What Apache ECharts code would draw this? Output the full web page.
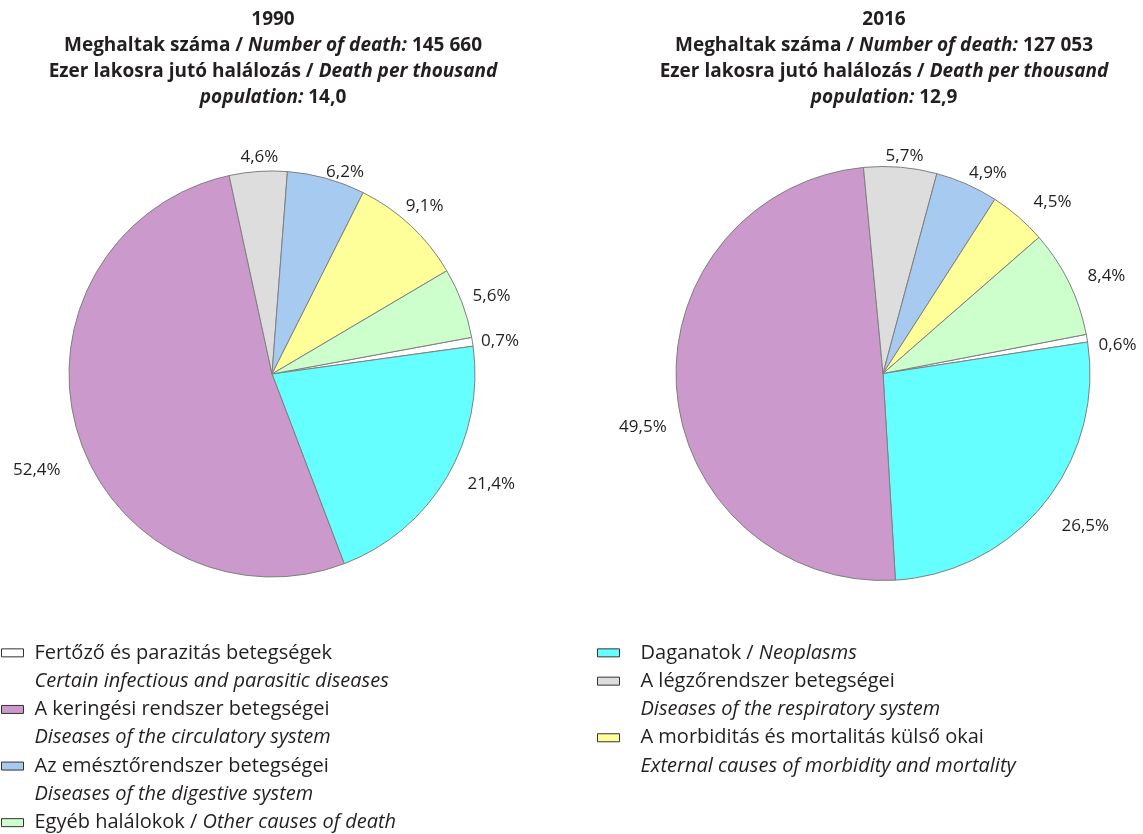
<!DOCTYPE html>
<html>
<head>
<meta charset="utf-8">
<script src="https://cdn.jsdelivr.net/npm/echarts/dist/echarts.min.js"></script>
<style>
html, body { margin: 0; padding: 0; background: #fff; }
#main { width: 1143px; height: 834px; }
</style>
</head>
<body>
<div id="main"></div>
<script>
// categories, in the order the slices run clockwise
var namesHu = ['Fertőző és parazitás betegségek', 'Daganatok', 'A keringési rendszer betegségei',
  'A légzőrendszer betegségei', 'Az emésztőrendszer betegségei',
  'A morbiditás és mortalitás külső okai', 'Egyéb halálokok'];
var namesEn = ['Certain infectious and parasitic diseases', 'Neoplasms', 'Diseases of the circulatory system',
  'Diseases of the respiratory system', 'Diseases of the digestive system',
  'External causes of morbidity and mortality', 'Other causes of death'];
var share1990 = [0.7, 21.4, 52.4, 4.6, 6.2, 9.1, 5.6];
var share2016 = [0.6, 26.5, 49.5, 5.7, 4.9, 4.5, 8.4];
var years = ['1990', '2016'];
var deaths = ['145 660', '127 053'];
var deathRate = ['14,0', '12,9'];

var colors = ['#ffffff', '#66ffff', '#cc99cc', '#dddddd', '#a6caf0', '#ffff99', '#ccffcc'];
var oneLine = [false, true, false, false, false, false, true]; // "hu / en" on a single row
// legend placement: [category index, column x, row]
var legendSlots = [[0, 1, 0], [2, 1, 2], [4, 1, 4], [6, 1, 6], [1, 597, 0], [3, 597, 1], [5, 597, 3]];
// small nudges so the value labels sit where the original put them
var labelShift = [
  [[3, 2], [19, -1], [-12, 34], [3, 0], [12, 8], [-3, -9], [6, -2]],
  [[6, 9], [18, 14], [-4, 37], [2, 3], [11, 2], [18, -4], [15, 0]]
];

var FONT = 'Open Sans';
var TXT = '#231f20';
var ROW = 28.3;

function pct(v) {
  return v.toFixed(1).replace('.', ',') + '%';
}

// legend text; the blank rows keep the marker level with the Hungarian row
function legendText(i) {
  if (oneLine[i]) return '{t| }\n{t|' + namesHu[i] + ' / }{i|' + namesEn[i] + '}\n{t| }';
  return '{t| }\n{t|' + namesHu[i] + '}\n{i|' + namesEn[i] + '}';
}

var legendRich = {
  t: { fontFamily: FONT, fontSize: 20, lineHeight: ROW, color: TXT },
  i: { fontFamily: FONT, fontSize: 20, lineHeight: ROW, color: TXT, fontStyle: 'italic' }
};

function titleText(k) {
  return [
    '{b|' + years[k] + '}',
    '{b|Meghaltak száma}{n| / }{i|Number of death: }{b|' + deaths[k] + '}',
    '{b|Ezer lakosra jutó halálozás}{n| / }{i|Death per thousand}',
    '{i|population: }{b|' + deathRate[k] + '}'
  ].join('\n');
}

var titleRich = {
  b: { fontFamily: FONT, fontSize: 19, lineHeight: 26, fontWeight: 'bold', color: TXT },
  n: { fontFamily: FONT, fontSize: 19, lineHeight: 26, color: TXT },
  i: { fontFamily: FONT, fontSize: 19, lineHeight: 26, fontStyle: 'italic', color: TXT }
};

function outsideLabel(p) {
  var pts = p.labelLinePoints;
  if (!pts) return {};
  var dx = pts[1][0] - pts[0][0], dy = pts[1][1] - pts[0][1];
  var len = Math.sqrt(dx * dx + dy * dy) || 1;
  var ux = dx / len, uy = dy / len;
  var s = labelShift[p.seriesIndex][p.dataIndex];
  return {
    x: pts[1][0] + ux * p.labelRect.width / 2 + s[0],
    y: pts[1][1] + uy * p.labelRect.height / 2 + s[1],
    align: 'center',
    verticalAlign: 'middle'
  };
}

function pieSeries(values, center, radius, startAngle) {
  return {
    type: 'pie',
    center: center,
    radius: radius,
    startAngle: startAngle,
    clockwise: true,
    avoidLabelOverlap: false,
    animation: false,
    emphasis: { scale: false },
    itemStyle: { borderColor: '#808080', borderWidth: 1 },
    label: {
      show: true,
      position: 'outside',
      fontFamily: FONT,
      fontSize: 17,
      color: TXT,
      formatter: function (p) { return pct(p.value); }
    },
    labelLine: { show: true, length: 6, length2: 0, lineStyle: { opacity: 0 } },
    labelLayout: outsideLabel,
    data: namesHu.map(function (n, i) {
      return { name: n, value: values[i], itemStyle: { color: colors[i] } };
    })
  };
}

var chart = echarts.init(document.getElementById('main'));
chart.setOption({
  backgroundColor: '#fff',
  title: [0, 1].map(function (k) {
    return {
      text: titleText(k),
      left: k ? 884 : 273,
      top: 7,
      textAlign: 'center',
      padding: 0,
      textStyle: { rich: titleRich }
    };
  }),
  legend: legendSlots.map(function (slot) {
    return {
      data: [namesHu[slot[0]]],
      orient: 'vertical',
      left: slot[1],
      top: 650 + ROW * slot[2] - 1.5 * ROW + 7,
      padding: 0,
      itemWidth: 22,
      itemHeight: 8,
      selectedMode: false,
      icon: 'rect',
      itemStyle: { borderColor: '#333', borderWidth: 1 },
      textStyle: { padding: [0, 0, 0, slot[1] > 100 ? 16 : 6], rich: legendRich },
      formatter: function (name) { return legendText(namesHu.indexOf(name)); }
    };
  }),
  series: [
    pieSeries(share1990, [272, 374], 203, 10.4),
    pieSeries(share2016, [883, 373.5], 207, 10.9)
  ]
});
</script>
</body>
</html>
